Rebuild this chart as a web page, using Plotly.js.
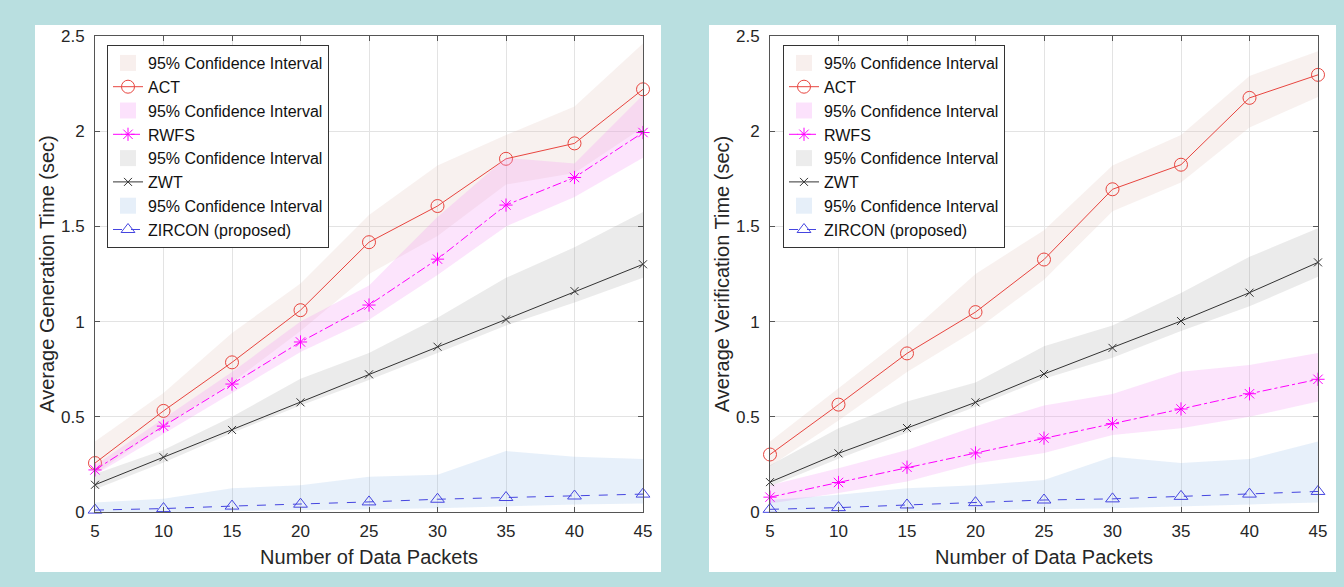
<!DOCTYPE html>
<html>
<head>
<meta charset="utf-8">
<script src="https://cdn.plot.ly/plotly-3.0.1.min.js"></script>
<style>html,body{margin:0;padding:0;background:#b9dfe0;}#chart{width:1344px;height:587px;}</style>
</head>
<body>
<div id="chart"></div>
<script>
// ---- data ----
const packets = [5, 10, 15, 20, 25, 30, 35, 40, 45];
const xTicks = [5, 10, 15, 20, 25, 30, 35, 40, 45];
const yTicks = [0, 0.5, 1, 1.5, 2, 2.5];
const seriesNames = ["ACT", "RWFS", "ZWT", "ZIRCON (proposed)"];
const ciName = "95% Confidence Interval";

// Generation time (left)
const genACT    = [0.257, 0.531, 0.786, 1.06, 1.417, 1.607, 1.855, 1.936, 2.22];
const genACTup  = [0.37, 0.625, 0.94, 1.2, 1.56, 1.82, 1.98, 2.13, 2.46];
const genACTlo  = [0.2, 0.45, 0.68, 0.95, 1.25, 1.45, 1.72, 1.78, 2.02];
const genRWFS   = [0.221, 0.451, 0.672, 0.893, 1.087, 1.328, 1.612, 1.757, 1.993];
const genRWFSup = [0.245, 0.49, 0.735, 1.0, 1.19, 1.55, 1.86, 1.83, 2.19];
const genRWFSlo = [0.195, 0.41, 0.625, 0.84, 1.01, 1.245, 1.5, 1.655, 1.86];
const genZWT    = [0.143, 0.288, 0.431, 0.576, 0.723, 0.868, 1.011, 1.16, 1.301];
const genZWTup  = [0.2, 0.325, 0.5, 0.7, 0.835, 1.02, 1.23, 1.39, 1.575];
const genZWTlo  = [0.12, 0.26, 0.415, 0.56, 0.693, 0.835, 0.98, 1.1, 1.23];
const genZIR    = [0.01, 0.018, 0.031, 0.041, 0.053, 0.067, 0.076, 0.084, 0.094];
const genZIRup  = [0.05, 0.07, 0.125, 0.14, 0.185, 0.195, 0.32, 0.29, 0.278];
const genZIRlo  = [0, 0, 0.005, 0.01, 0.015, 0.02, 0.03, 0.04, 0.045];

// Verification time (right)
const verACT    = [0.302, 0.564, 0.833, 1.05, 1.326, 1.695, 1.824, 2.175, 2.296];
const verACTup  = [0.37, 0.65, 0.93, 1.25, 1.48, 1.82, 1.98, 2.29, 2.42];
const verACTlo  = [0.24, 0.48, 0.735, 0.955, 1.22, 1.58, 1.73, 2.02, 2.18];
const verRWFS   = [0.078, 0.155, 0.235, 0.31, 0.388, 0.464, 0.541, 0.621, 0.697];
const verRWFSup = [0.14, 0.23, 0.325, 0.45, 0.56, 0.62, 0.737, 0.772, 0.835];
const verRWFSlo = [0.045, 0.10, 0.16, 0.255, 0.31, 0.404, 0.44, 0.50, 0.58];
const verZWT    = [0.157, 0.308, 0.441, 0.576, 0.725, 0.862, 1.003, 1.152, 1.311];
const verZWTup  = [0.245, 0.44, 0.58, 0.68, 0.87, 0.98, 1.15, 1.34, 1.49];
const verZWTlo  = [0.135, 0.28, 0.415, 0.553, 0.70, 0.81, 0.95, 1.08, 1.235];
const verZIR    = [0.014, 0.023, 0.037, 0.049, 0.063, 0.069, 0.082, 0.094, 0.108];
const verZIRup  = [0.063, 0.09, 0.125, 0.14, 0.168, 0.29, 0.257, 0.278, 0.37];
const verZIRlo  = [0, 0, 0.005, 0.01, 0.015, 0.02, 0.03, 0.04, 0.05];

// ---- styles ----
const FONT = "Liberation Sans, Arial, sans-serif";
const styles = [
  {line: "#e8453f", dash: "solid",   sym: "circle-open",      size: 13, fill: "rgba(225,190,180,0.22)", swatch: "#f8efed"},
  {line: "#ff00ff", dash: "dashdot", sym: "asterisk-open",    size: 11, fill: "rgba(245,150,245,0.26)", swatch: "#fce2fc"},
  {line: "#333333", dash: "solid",   sym: "x-thin-open",      size: 8,  fill: "rgba(150,150,150,0.19)", swatch: "#ececec"},
  {line: "#4545e0", dash: "dash",    sym: "triangle-up-open", size: 12, fill: "rgba(120,170,230,0.18)", swatch: "#e6eff9"}
];

function buildTraces(means, ups, los, xa, ya, leg) {
  const out = [];
  means.forEach((m, i) => {
    const s = styles[i];
    // confidence band
    out.push({
      x: packets.concat(packets.slice().reverse()),
      y: ups[i].concat(los[i].slice().reverse()),
      xaxis: xa, yaxis: ya, legend: leg, showlegend: false,
      type: "scatter", mode: "lines", fill: "toself",
      fillcolor: s.fill, line: {width: 0, color: s.fill},
      name: ciName, hoverinfo: "skip"
    });
    // legend swatch entry for the band (no data drawn)
    out.push({
      x: [null], y: [null], xaxis: xa, yaxis: ya, legend: leg,
      type: "scatter", mode: "markers",
      marker: {symbol: "square", size: 16, color: s.swatch, line: {width: 0}},
      name: ciName, hoverinfo: "skip"
    });
    // mean line
    out.push({
      x: packets, y: m, xaxis: xa, yaxis: ya, legend: leg,
      type: "scatter", mode: "lines+markers", cliponaxis: false,
      line: {color: s.line, width: 1, dash: s.dash},
      marker: {symbol: s.sym, size: s.size, color: s.line, line: {color: s.line, width: 1}},
      name: seriesNames[i]
    });
  });
  return out;
}

const traces = [].concat(
  buildTraces([genACT, genRWFS, genZWT, genZIR], [genACTup, genRWFSup, genZWTup, genZIRup],
              [genACTlo, genRWFSlo, genZWTlo, genZIRlo], "x", "y", "legend"),
  buildTraces([verACT, verRWFS, verZWT, verZIR], [verACTup, verRWFSup, verZWTup, verZIRup],
              [verACTlo, verRWFSlo, verZWTlo, verZIRlo], "x2", "y2", "legend2")
);

const W = 1344, H = 587;
const px = v => v / W, py = v => (H - v) / H;

function xAxis(domain, anchor) {
  return {
    domain: domain, anchor: anchor, range: [5, 45], tickvals: xTicks,
    showgrid: true, gridcolor: "#e3e3e3", gridwidth: 1, zeroline: false,
    showline: true, linecolor: "#555", linewidth: 1, mirror: "ticks",
    ticks: "inside", ticklen: 5, tickcolor: "#555", ticklabelstandoff: 4,
    tickfont: {family: FONT, size: 17, color: "#262626"},
    title: {text: "Number of Data Packets", standoff: 9, font: {family: FONT, size: 20, color: "#262626"}}
  };
}
function yAxis(domain, anchor, title) {
  return {
    domain: domain, anchor: anchor, range: [0, 2.5], tickvals: yTicks,
    showgrid: true, gridcolor: "#e3e3e3", gridwidth: 1, zeroline: false,
    showline: true, linecolor: "#555", linewidth: 1, mirror: "ticks",
    ticks: "inside", ticklen: 5, tickcolor: "#555", ticklabelstandoff: 6,
    tickfont: {family: FONT, size: 17, color: "#262626"},
    title: {text: title, standoff: 0, font: {family: FONT, size: 20, color: "#262626"}}
  };
}
function legendBox(x) {
  return {
    x: x, y: py(45), xanchor: "left", yanchor: "top", xref: "paper", yref: "paper",
    bgcolor: "#ffffff", bordercolor: "#333", borderwidth: 1,
    font: {family: FONT, size: 16, color: "#111"}, itemwidth: 30, traceorder: "normal",
    tracegroupgap: 0
  };
}

const yDom = [py(512), py(36)];
const layout = {
  width: W, height: H,
  margin: {l: 0, r: 0, t: 0, b: 0},
  paper_bgcolor: "#b9dfe0", plot_bgcolor: "#ffffff",
  showlegend: true,
  xaxis: xAxis([px(95), px(643)], "y"),
  yaxis: yAxis(yDom, "x", "Average Generation Time (sec)"),
  xaxis2: xAxis([px(770), px(1318)], "y2"),
  yaxis2: yAxis(yDom, "x2", "Average Verification Time (sec)"),
  legend: legendBox(px(107)),
  legend2: legendBox(px(783)),
  shapes: [
    {type: "rect", xref: "paper", yref: "paper", x0: px(35), x1: px(661), y0: py(572), y1: py(25),
     fillcolor: "#ffffff", line: {width: 0}, layer: "below"},
    {type: "rect", xref: "paper", yref: "paper", x0: px(709), x1: px(1336), y0: py(572), y1: py(25),
     fillcolor: "#ffffff", line: {width: 0}, layer: "below"}
  ]
};

Plotly.newPlot("chart", traces, layout, {displayModeBar: false, staticPlot: true});
</script>
</body>
</html>
